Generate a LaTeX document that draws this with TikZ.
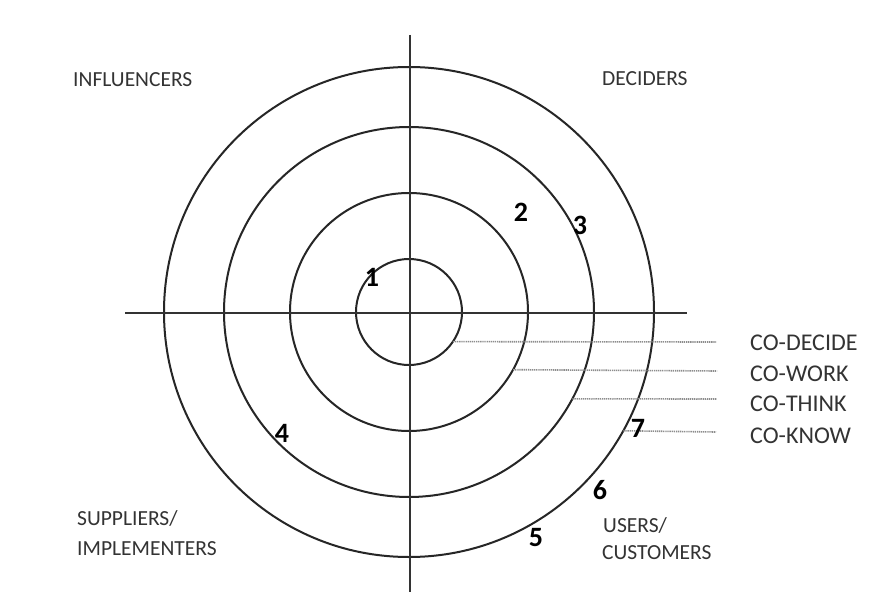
\documentclass[tikz,border=0pt]{standalone}
\usepackage{fontspec}
\setmainfont{Carlito}
\begin{document}
\begin{tikzpicture}[x=1pt,y=-1pt,
  ring/.style={draw=black!85,line width=2pt,circle,inner sep=0pt,outer sep=0pt},
  axis/.style={draw=black!80,line width=2pt},
  guide/.style={draw=black!45,line width=1.6pt,dash pattern=on 1.3pt off 0.8pt},
  quad/.style={font=\fontsize{21.5}{25}\selectfont,text=black!80,anchor=west,inner sep=0pt,align=left},
  colab/.style={font=\fontsize{24}{28}\selectfont,text=black!80,anchor=west,inner sep=0pt},
  num/.style={font=\fontsize{28}{32}\selectfont\bfseries,text=black,inner sep=0pt}]
\useasboundingbox (0,0) rectangle (871,610);
\fill[white] (0,0) rectangle (871,610);
% rings
\node[ring,minimum size=490pt] (c4) at (409,312) {};
\node[ring,minimum size=370pt] (c3) at (409,312) {};
\node[ring,minimum size=238pt] (c2) at (409,312) {};
\node[ring,minimum size=106pt] (c1) at (409,312) {};
% axes
\coordinate (hl) at (125,313);
\coordinate (hr) at (687,313);
\coordinate (vt) at (410,35);
\coordinate (vb) at (410,592);
\draw[axis] (hl) -- (hr);
\draw[axis] (vt) -- (vb);
% quadrant labels
\node[quad] (infl) at (73,80) {INFLUENCERS};
\node[quad] (dec) at (602,79) {DECIDERS};
\node[quad] (sup) at (77,518) {SUPPLIERS/};
\node[quad] (imp) at (77,549) {IMPLEMENTERS};
\node[quad] (usr) at (603,525) {USERS/};
\node[quad] (cust) at (602,553) {CUSTOMERS};
% co- labels and guide lines
\node[colab] (cod) at (750,343) {CO-DECIDE};
\node[colab] (cow) at (750,374) {CO-WORK};
\node[colab] (cot) at (750,404) {CO-THINK};
\node[colab] (cok) at (750,436) {CO-KNOW};
\coordinate (ed) at (716,342);
\coordinate (ew) at (717,371);
\coordinate (et) at (717,399);
\coordinate (ek) at (716,432);
\draw[guide] (c1.-34.5) -- (ed);
\draw[guide] (c2.-29.7) -- (ew);
\draw[guide] (c3.-28) -- (et);
\draw[guide] (c4.-29.3) -- (ek);
% numbers
\node[num] (n1) at (372,277) {1};
\node[num] (n2) at (521,212) {2};
\node[num] (n3) at (580,225) {3};
\node[num] (n4) at (282,433) {4};
\node[num] (n5) at (536,538) {5};
\node[num] (n6) at (600,490) {6};
\node[num] (n7) at (638,428) {7};
\end{tikzpicture}
\end{document}
